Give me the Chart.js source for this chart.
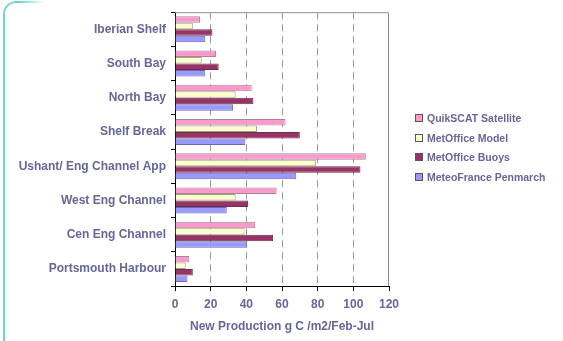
<!DOCTYPE html>
<html>
<head>
<meta charset="utf-8">
<script src="https://cdn.jsdelivr.net/npm/chart.js@4"></script>
<style>
    html, body { margin: 0; padding: 0; background: #fff; overflow: hidden; }
    #wrap { position: relative; width: 563px; height: 341px; }
    #frame {
        position: absolute; left: 3px; top: 1px; width: 40px; height: 345px;
        border-left: 2px solid #6dd6d2; border-top: 2px solid #6dd6d2;
        border-bottom: 2px solid #6dd6d2;
        border-top-left-radius: 13px; border-bottom-left-radius: 8px;
        -webkit-mask-image: linear-gradient(to right, #000 40%, transparent);
    }
    #legend {
        position: absolute; left: 415px; top: 111px; white-space: nowrap;
        font: bold 10.5px "Liberation Sans", Arial, sans-serif; color: #666699;
    }
    #legend div { height: 19.6px; line-height: 14px; }
    #legend span {
        display: inline-block; width: 6px; height: 6px; border: 1px solid #555;
        margin-right: 4px; vertical-align: 0px;
    }
</style>
</head>
<body>
<div id="wrap">
    <div id="frame"></div>
    <canvas id="chart"></canvas>
    <div id="legend"></div>
</div>
<script>
const categories = ['Iberian Shelf', 'South Bay', 'North Bay', 'Shelf Break',
    'Ushant/ Eng Channel App', 'West Eng Channel', 'Cen Eng Channel', 'Portsmouth Harbour'];
const seriesNames = ['QuikSCAT Satellite', 'MetOffice Model', 'MetOffice Buoys', 'MeteoFrance Penmarch'];
const quikscat = [14, 23, 43, 62, 107, 57, 45, 8];
const metofficeModel = [10, 15, 34, 46, 79, 34, 39, 6];
const metofficeBuoys = [21, 24.5, 44, 70, 104, 41, 55, 10];
const meteofrance = [17, 17, 32.5, 39.5, 68, 29, 40.5, 7];
const xTicks = [0, 20, 40, 60, 80, 100, 120];

const fills = ['#ff99cc', '#ffffcc', '#993366', '#9999ff'];
const edges = ['#a08a98', '#a0a090', '#6a3050', '#6868b0'];
const textColor = '#666699';
const font = { family: '"Liberation Sans", Arial, sans-serif', weight: 'bold', size: 12 };

// legend drawn as plain html to the right of the plot
const legend = document.getElementById('legend');
seriesNames.forEach((name, i) => {
    const row = document.createElement('div');
    row.innerHTML = '<span style="background:' + fills[i] + '"></span>' + name;
    legend.appendChild(row);
});

// frame round the plot: grey-purple top and right, black bottom axis line
const plotFrame = {
    id: 'plotFrame',
    afterDraw(chart) {
        const a = chart.chartArea;
        const ctx = chart.ctx;
        ctx.save();
        ctx.setLineDash([]);
        ctx.lineWidth = 1;
        ctx.strokeStyle = '#8a8aa8';
        ctx.beginPath();
        ctx.moveTo(a.left, a.top + 0.5);
        ctx.lineTo(a.right - 0.5, a.top + 0.5);
        ctx.lineTo(a.right - 0.5, a.bottom);
        ctx.stroke();
        ctx.strokeStyle = '#000';
        ctx.beginPath();
        ctx.moveTo(a.left, a.bottom + 0.5);
        ctx.lineTo(a.right, a.bottom + 0.5);
        ctx.stroke();
        ctx.restore();
    }
};

const values = [quikscat, metofficeModel, metofficeBuoys, meteofrance];
new Chart(document.getElementById('chart'), {
    type: 'bar',
    data: {
        labels: categories,
        datasets: values.map((data, i) => ({
            label: seriesNames[i],
            data: data,
            backgroundColor: fills[i],
            borderColor: edges[i],
            borderWidth: 1,
            barPercentage: 1,
            categoryPercentage: 0.76
        }))
    },
    options: {
        indexAxis: 'y',
        responsive: true,
        maintainAspectRatio: false,
        animation: false,
        layout: { padding: { left: 0, right: 174, top: 7, bottom: 0 } },
        plugins: {
            legend: { display: false },
            tooltip: { enabled: false }
        },
        scales: {
            x: {
                min: 0,
                max: 120,
                afterBuildTicks(scale) {
                    scale.ticks = xTicks.map(v => ({ value: v }));
                },
                afterFit(scale) { scale.height = 55; },
                grid: {
                    color: c => (c.tick && (c.tick.value === 0 || c.tick.value === 120)) ? 'rgba(0,0,0,0)' : '#9a9a9a',
                    tickColor: '#000',
                    tickBorderDash: [],
                    tickLength: 5
                },
                // in v4 the grid line dash comes from border.dash
                border: { display: false, dash: [7, 5] },
                ticks: { color: textColor, font: font, padding: 6 },
                title: {
                    display: true,
                    text: 'New Production g C /m2/Feb-Jul',
                    color: textColor,
                    font: font,
                    padding: { top: 4, bottom: 7 }
                }
            },
            y: {
                afterFit(scale) { scale.width = 175; },
                grid: {
                    drawOnChartArea: false,
                    drawTicks: true,
                    tickLength: 4,
                    tickColor: '#000',
                    offset: true
                },
                border: { color: '#000', width: 1 },
                ticks: { color: textColor, font: font, padding: 5 }
            }
        }
    },
    plugins: [plotFrame]
});
</script>
</body>
</html>
